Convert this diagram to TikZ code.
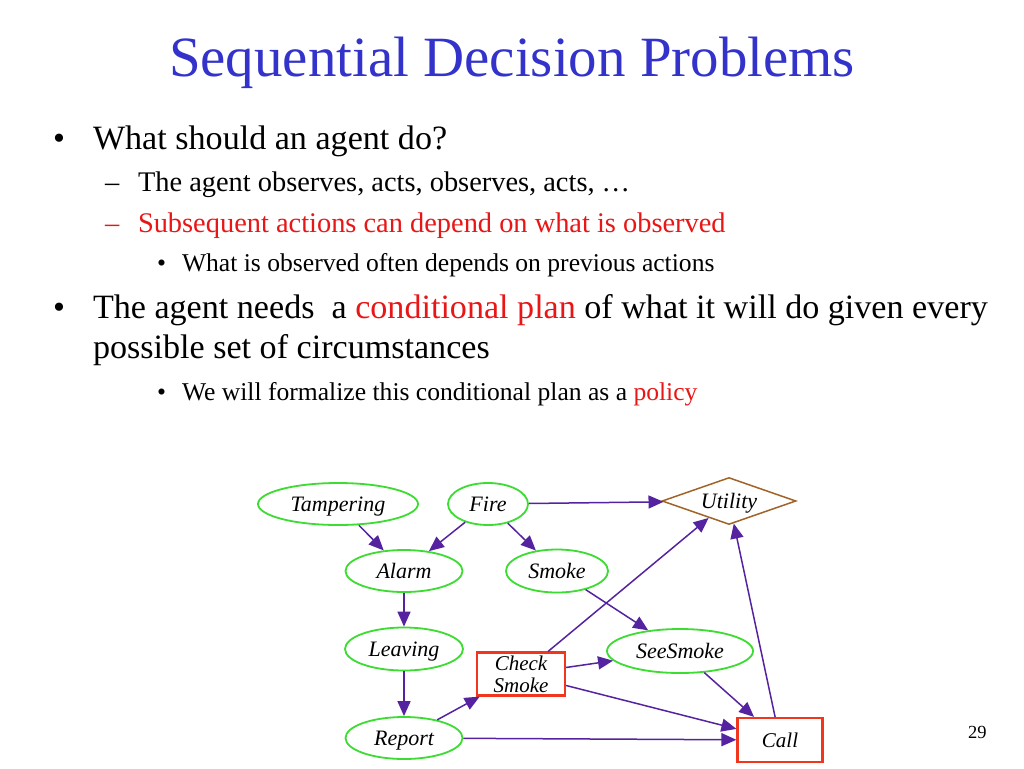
\documentclass[tikz,border=0pt]{standalone}
\usepackage{fontspec}
\setmainfont{Liberation Serif}
\usetikzlibrary{arrows.meta,shapes.geometric}
\definecolor{titleblue}{RGB}{51,51,204}
\definecolor{slidered}{RGB}{232,22,22}
\definecolor{ellgreen}{RGB}{60,220,50}
\definecolor{edgepurple}{RGB}{85,35,160}
\definecolor{boxred}{RGB}{240,55,30}
\definecolor{utilbrown}{RGB}{160,100,40}
\begin{document}
\begin{tikzpicture}[x=1pt,y=-1pt,
  txt/.style={anchor=base west,inner sep=0pt,outer sep=0pt},
  ell/.style={ellipse,draw=ellgreen,line width=1.8pt,inner sep=0pt,text height=14pt,text depth=0pt,font=\fontsize{22}{24}\selectfont\itshape},
  dec/.style={rectangle,draw=boxred,line width=2.2pt,inner sep=0pt,font=\fontsize{21}{22}\selectfont\itshape,align=center},
  util/.style={diamond,aspect=2.85,draw=utilbrown,line width=1.5pt,inner sep=0pt,text height=14pt,text depth=0pt,minimum width=134pt,minimum height=47pt,font=\fontsize{22}{24}\selectfont\itshape},
  edge/.style={draw=edgepurple,line width=1.5pt,-{Triangle[length=15pt,width=13pt]}}
]
\useasboundingbox (0,0) rectangle (1024,768);
\fill[white] (0,0) rectangle (1024,768);

% title
\node[anchor=base,inner sep=0pt,text=titleblue,font=\fontsize{56.9}{60}\selectfont] (title) at (512,77) {Sequential Decision Problems};

% bullets
\node[txt,font=\fontsize{34.1}{36}\selectfont] (b1) at (53,149) {•};
\node[txt,font=\fontsize{34.1}{36}\selectfont] (t1) at (93,149) {What should an agent do?};
\node[txt,font=\fontsize{28.4}{30}\selectfont] (d1) at (105,191) {–};
\node[txt,font=\fontsize{28.4}{30}\selectfont] (t2) at (138,191) {The agent observes, acts, observes, acts, …};
\node[txt,font=\fontsize{28.4}{30}\selectfont,text=slidered] (d2) at (105,232) {–};
\node[txt,font=\fontsize{28.4}{30}\selectfont,text=slidered] (t3) at (138,232) {Subsequent actions can depend on what is observed};
\node[txt,font=\fontsize{25.6}{28}\selectfont] (b3) at (157,271) {•};
\node[txt,font=\fontsize{25.6}{28}\selectfont] (t4) at (182,271) {What is observed often depends on previous actions};
\node[txt,font=\fontsize{34.1}{36}\selectfont] (b2) at (53,318) {•};
\node[txt,font=\fontsize{34.1}{36}\selectfont] (t5) at (93,318) {The agent needs\ \ a \textcolor{slidered}{conditional plan} of what it will do given every};
\node[txt,font=\fontsize{34.1}{36}\selectfont] (t6) at (93,358) {possible set of circumstances};
\node[txt,font=\fontsize{25.6}{28}\selectfont] (b4) at (157,400) {•};
\node[txt,font=\fontsize{25.6}{28}\selectfont] (t7) at (182,400) {We will formalize this conditional plan as a \textcolor{slidered}{policy}};

% page number
\node[txt,font=\fontsize{18.5}{20}\selectfont] (pg) at (968,738) {29};

% diagram nodes
\node[ell,minimum width=160pt,minimum height=42pt] (tamp) at (338,504) {Tampering};
\node[ell,minimum width=80pt,minimum height=42pt] (fire) at (488,504) {Fire};
\node[util] (utility) at (729,501) {Utility};
\node[ell,minimum width=117pt,minimum height=42pt] (alarm) at (404,571) {Alarm};
\node[ell,minimum width=102pt,minimum height=43pt] (smoke) at (557,571) {Smoke};
\node[ell,minimum width=118pt,minimum height=43pt] (leaving) at (404,649) {Leaving};
\node[dec,minimum width=88pt,minimum height=43pt] (check) at (521,674) {Check\\Smoke};
\node[ell,minimum width=146pt,minimum height=44pt] (see) at (680,651) {SeeSmoke};
\node[ell,minimum width=117pt,minimum height=42pt] (report) at (404,738) {Report};
\node[dec,minimum width=85pt,minimum height=44pt,text height=14pt,text depth=0pt] (call) at (780,740) {Call};

% edges
\draw[edge] (tamp) -- (alarm);
\draw[edge] (fire) -- (alarm);
\draw[edge] (fire) -- (smoke);
\draw[edge] (fire) -- (utility);
\draw[edge] (alarm) -- (leaving);
\draw[edge] (leaving) -- (report);
\draw[edge] (report) -- (check);
\draw[edge] (check) -- (utility);
\draw[edge] (check) -- (see);
\draw[edge] (check) -- (call);
\draw[edge] (report) -- (call);
\draw[edge] (smoke) -- (see);
\draw[edge] (see) -- (call);
\draw[edge] (call) -- (utility);
\end{tikzpicture}
\end{document}
